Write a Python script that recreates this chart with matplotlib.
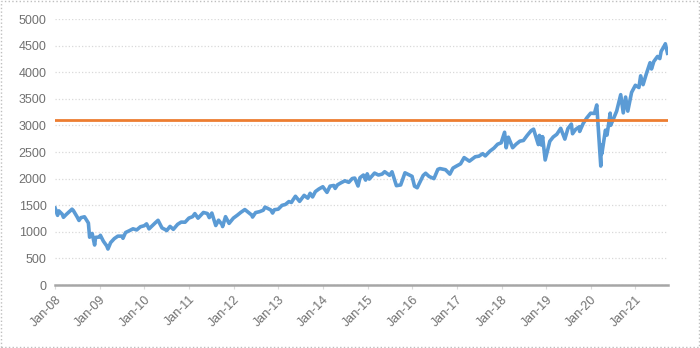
import pandas as pd
import matplotlib.pyplot as plt
import matplotlib.dates as mdates
from matplotlib.patches import Rectangle

# index level (approx, with visible highs/lows)
dates = [
    "2008-01-02", "2008-01-22", "2008-02-01", "2008-02-29", "2008-03-10", "2008-03-31",
    "2008-04-30", "2008-05-19", "2008-05-30", "2008-06-30", "2008-07-15", "2008-07-31",
    "2008-08-29", "2008-09-30", "2008-10-10", "2008-10-31", "2008-11-20", "2008-11-28",
    "2008-12-31", "2009-01-06", "2009-01-30", "2009-02-27", "2009-03-09", "2009-03-31",
    "2009-04-30", "2009-05-29", "2009-06-30", "2009-07-10", "2009-07-31", "2009-08-31",
    "2009-09-30", "2009-10-30", "2009-11-30", "2009-12-31", "2010-01-19", "2010-02-08",
    "2010-03-31", "2010-04-23", "2010-05-25", "2010-06-30", "2010-07-02", "2010-07-30",
    "2010-08-26", "2010-09-30", "2010-10-29", "2010-11-30", "2010-12-31", "2011-01-31",
    "2011-02-18", "2011-03-16", "2011-04-29", "2011-05-31", "2011-06-16", "2011-07-07",
    "2011-08-08", "2011-08-31", "2011-09-30", "2011-10-03", "2011-10-27", "2011-11-25",
    "2011-12-30", "2012-01-31", "2012-02-29", "2012-04-02", "2012-05-31", "2012-06-04",
    "2012-06-29", "2012-07-31", "2012-08-31", "2012-09-14", "2012-10-31", "2012-11-15",
    "2012-11-30", "2012-12-31", "2013-01-31", "2013-02-28", "2013-03-28", "2013-04-18",
    "2013-04-30", "2013-05-21", "2013-06-24", "2013-07-31", "2013-08-30", "2013-09-18",
    "2013-10-08", "2013-10-31", "2013-11-29", "2013-12-31", "2014-02-03", "2014-02-28",
    "2014-03-31", "2014-04-11", "2014-04-30", "2014-05-30", "2014-06-30", "2014-07-31",
    "2014-08-29", "2014-09-18", "2014-10-15", "2014-10-31", "2014-11-28", "2014-12-16",
    "2014-12-29", "2015-01-15", "2015-02-27", "2015-03-31", "2015-04-30", "2015-05-21",
    "2015-06-30", "2015-07-20", "2015-08-25", "2015-09-29", "2015-10-30", "2015-11-03",
    "2015-12-31", "2016-01-20", "2016-02-11", "2016-03-31", "2016-04-20", "2016-05-19",
    "2016-06-27", "2016-07-29", "2016-08-15", "2016-09-30", "2016-11-04", "2016-11-30",
    "2016-12-30", "2017-01-31", "2017-03-01", "2017-04-13", "2017-05-31", "2017-06-30",
    "2017-07-31", "2017-08-21", "2017-09-29", "2017-10-31", "2017-11-30", "2017-12-29",
    "2018-01-26", "2018-02-08", "2018-02-26", "2018-04-02", "2018-04-30", "2018-05-31",
    "2018-06-29", "2018-07-31", "2018-08-31", "2018-09-20", "2018-10-29", "2018-11-07",
    "2018-11-23", "2018-12-03", "2018-12-24", "2019-01-31", "2019-02-28", "2019-03-29",
    "2019-04-30", "2019-06-03", "2019-06-28", "2019-07-26", "2019-08-05", "2019-08-30",
    "2019-09-30", "2019-10-02", "2019-10-31", "2019-11-29", "2019-12-31", "2020-01-31",
    "2020-02-19", "2020-03-23", "2020-03-26", "2020-04-01", "2020-04-30", "2020-05-13",
    "2020-06-08", "2020-06-11", "2020-06-30", "2020-07-31", "2020-09-02", "2020-09-23",
    "2020-10-12", "2020-10-30", "2020-11-30", "2020-12-31", "2021-01-29", "2021-02-12",
    "2021-03-04", "2021-03-31", "2021-04-30", "2021-05-12", "2021-05-31", "2021-06-30",
    "2021-07-19", "2021-07-30", "2021-08-31", "2021-09-02", "2021-09-20",
]
values = [
    1447, 1310, 1395, 1331, 1273, 1323,
    1386, 1426, 1400, 1280, 1214, 1267,
    1283, 1166, 899, 969, 752, 896,
    903, 935, 826, 735, 677, 798,
    873, 919, 919, 879, 987, 1021,
    1057, 1036, 1096, 1115, 1150, 1056,
    1169, 1217, 1074, 1031, 1022, 1102,
    1047, 1141, 1183, 1181, 1258, 1286,
    1343, 1257, 1364, 1345, 1268, 1353,
    1119, 1219, 1131, 1099, 1285, 1159,
    1258, 1312, 1366, 1419, 1310, 1278,
    1362, 1379, 1407, 1465, 1412, 1353,
    1416, 1426, 1498, 1515, 1569, 1552,
    1598, 1669, 1573, 1686, 1633, 1725,
    1656, 1757, 1806, 1848, 1742, 1859,
    1872, 1816, 1884, 1924, 1960, 1931,
    2003, 2011, 1862, 2018, 2068, 1973,
    2091, 1992, 2105, 2068, 2086, 2131,
    2063, 2129, 1868, 1882, 2079, 2110,
    2044, 1859, 1829, 2060, 2102, 2040,
    2001, 2174, 2190, 2168, 2085, 2199,
    2239, 2279, 2396, 2329, 2412, 2423,
    2470, 2428, 2519, 2575, 2648, 2674,
    2873, 2581, 2780, 2582, 2648, 2705,
    2718, 2816, 2902, 2931, 2641, 2814,
    2633, 2790, 2351, 2704, 2784, 2834,
    2946, 2744, 2942, 3026, 2845, 2926,
    2977, 2888, 3038, 3141, 3231, 3226,
    3386, 2237, 2630, 2471, 2912, 2820,
    3232, 3002, 3100, 3271, 3580, 3237,
    3535, 3270, 3622, 3756, 3714, 3934,
    3768, 3973, 4181, 4063, 4204, 4298,
    4258, 4395, 4523, 4537, 4358,
]
threshold = 3100
tick_years = list(range(2008, 2022))

x = pd.to_datetime(dates)

fig = plt.figure(figsize=(7, 3.48), dpi=100)
ax = fig.add_axes([0.0786, 0.181, 0.875, 0.764])

ax.plot(x, values, color="#5B9BD5", lw=2.6, zorder=3)
ax.plot([x[0], x[-1]], [threshold, threshold], color="#ED7D31", lw=2.0, zorder=4)

ax.set_xlim(x[0], x[-1])
ax.set_ylim(0, 5000)
ax.set_yticks(range(0, 5001, 500))
ax.yaxis.grid(True, color="#D9D9D9", ls=":", lw=0.9)
ax.set_axisbelow(True)

ticks = pd.to_datetime([f"{y}-01-01" for y in tick_years])
ax.set_xticks(ticks)
ax.xaxis.set_major_formatter(mdates.DateFormatter("%b-%y"))
for lab in ax.get_xticklabels():
    lab.set_rotation(45)
    lab.set_ha("right")
    lab.set_rotation_mode("anchor")

for s in ["top", "right", "left"]:
    ax.spines[s].set_visible(False)
ax.spines["bottom"].set_color("#A6A6A6")
ax.spines["bottom"].set_linewidth(1.8)

ax.tick_params(axis="y", length=0, labelsize=9, labelcolor="#707070", pad=6)
ax.tick_params(axis="x", length=3, color="#D9D9D9", labelsize=9, labelcolor="#707070", pad=3)
for lab in ax.get_xticklabels() + ax.get_yticklabels():
    lab.set_family("Liberation Sans")

# light dotted border round the chart area
fig.patches.append(Rectangle((0.002, 0.003), 0.996, 0.994, transform=fig.transFigure,
                             fill=False, ec="#BFBFBF", ls=":", lw=1.0))

fig.savefig("out.png", dpi=100)
